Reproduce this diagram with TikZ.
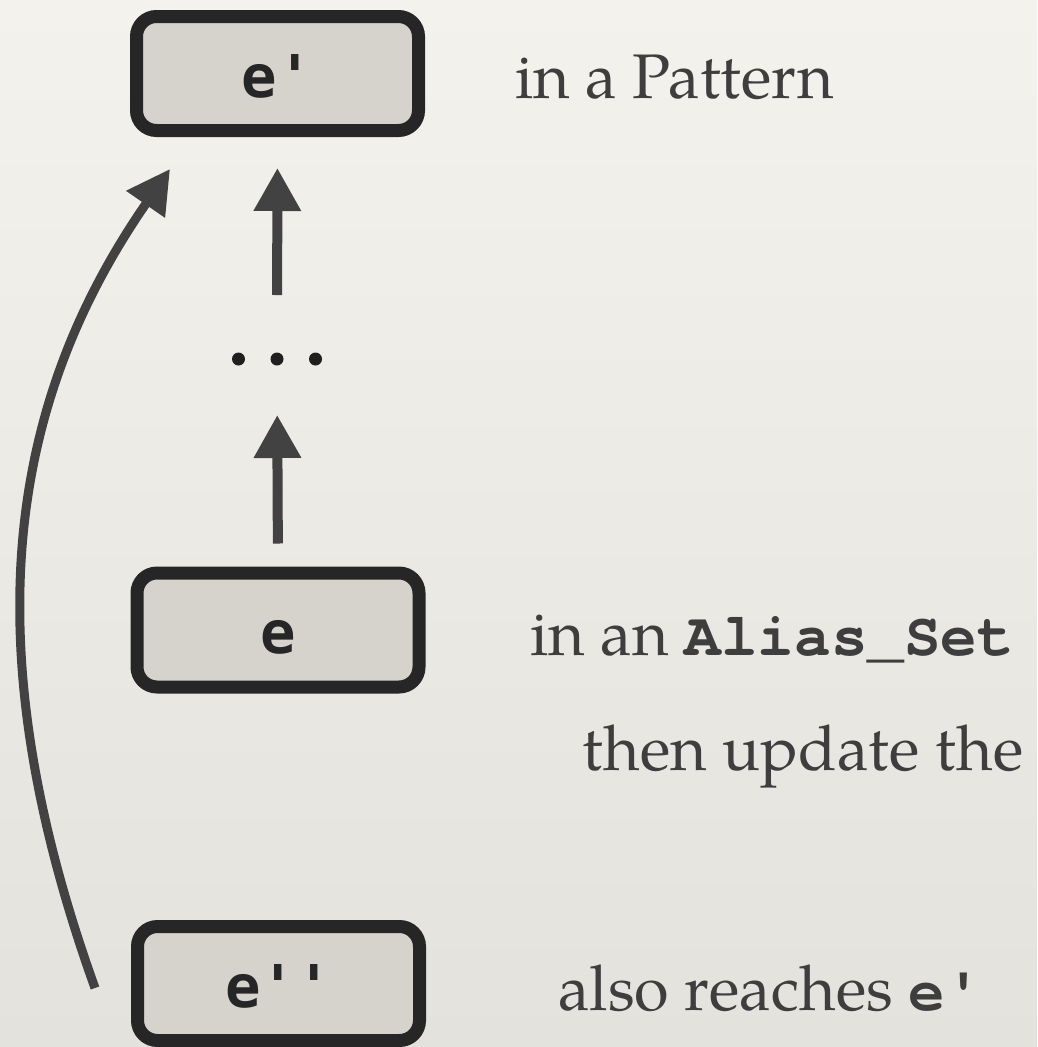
\documentclass[tikz,border=0pt]{standalone}
\usepackage{fontspec}
\setmainfont{texgyrepagella}[Extension=.otf, UprightFont=*-regular, BoldFont=*-bold]
\newfontfamily\boxmono{DejaVu Sans Mono}
\newfontfamily\codefont{texgyrecursor}[Extension=.otf, UprightFont=*-regular, BoldFont=*-bold]
\usetikzlibrary{arrows.meta}
\newcommand\sq{\char"27\relax}

\definecolor{bgtop}{HTML}{F4F2ED}
\definecolor{bgbottom}{HTML}{E4E2DD}
\definecolor{boxfill}{HTML}{D6D2CC}
\definecolor{boxline}{HTML}{262626}
\definecolor{arrowgray}{HTML}{424242}
\definecolor{textgray}{HTML}{3E3E3E}

\tikzset{
  exprbox/.style={draw=boxline, fill=boxfill, line width=13pt, rounded corners=20pt,
    minimum width=282pt, minimum height=114pt, inner sep=0pt, outer sep=0pt,
    text height=47pt, text depth=0pt, text=boxline,
    font=\boxmono\bfseries\fontsize{59}{62}\selectfont},
  flow/.style={draw=arrowgray, line width=10pt,
    -{Triangle[length=43pt, width=45pt]}},
  reach/.style={draw=arrowgray, line width=9pt,
    -{Triangle[length=43pt, width=45pt]}},
  note/.style={anchor=base west, inner sep=0pt, text=textgray,
    font=\fontsize{63}{76}\selectfont},
  dot/.style={fill=black!88, draw=none}
}
\newcommand\codeword[1]{{\codefont\bfseries\fontsize{61}{70}\selectfont #1}}

\begin{document}
\begin{tikzpicture}[x=1pt, y=-1pt]
  % paper background
  \shade[top color=bgtop, bottom color=bgbottom] (0,0) rectangle (1037,1047);
  \useasboundingbox (0,0) rectangle (1037,1047);

  % expression boxes
  \node[exprbox] (bp)  at (277.5, 73.5)  {e\sq};
  \node[exprbox] (be)  at (278, 630)     {e};
  \node[exprbox] (bpp) at (278.5, 983.5) {e\sq\sq};

  % elided chain between e and e'
  \node[inner sep=0pt, outer sep=0pt, minimum width=90pt, minimum height=13pt] (dots) at (277, 359) {};
  \fill[dot] ([xshift=-38.5pt]dots.center) circle (6.5pt);
  \fill[dot] (dots.center) circle (6.5pt);
  \fill[dot] ([xshift=38.5pt]dots.center) circle (6.5pt);

  \draw[flow, shorten <=29.5pt, shorten >=49.5pt] (be.north) -- (dots.south);
  \draw[flow, shorten <=57.5pt, shorten >=37.5pt] (dots.north) -- (bp.south);

  % direct path from e'' to e'
  \coordinate (rstart) at ([shift={(-183.5,4.5)}]bpp.center);
  \coordinate (rend)   at ([shift={(-107.5,95.5)}]bp.center);
  \draw[reach] (rstart) .. controls (-30,640) and (10,400) .. (rend);

  % annotations
  \node[note] (tp) at (515, 98) {in a Pattern};
  \node[note] (ta) at (530, 655) {in an \codeword{Alias\_Set}};
  \node[note] (tu) at (582, 770) {then update the};
  \node[note] (tr) at (558, 1010) {also reaches \codeword{e\sq}};
\end{tikzpicture}
\end{document}
